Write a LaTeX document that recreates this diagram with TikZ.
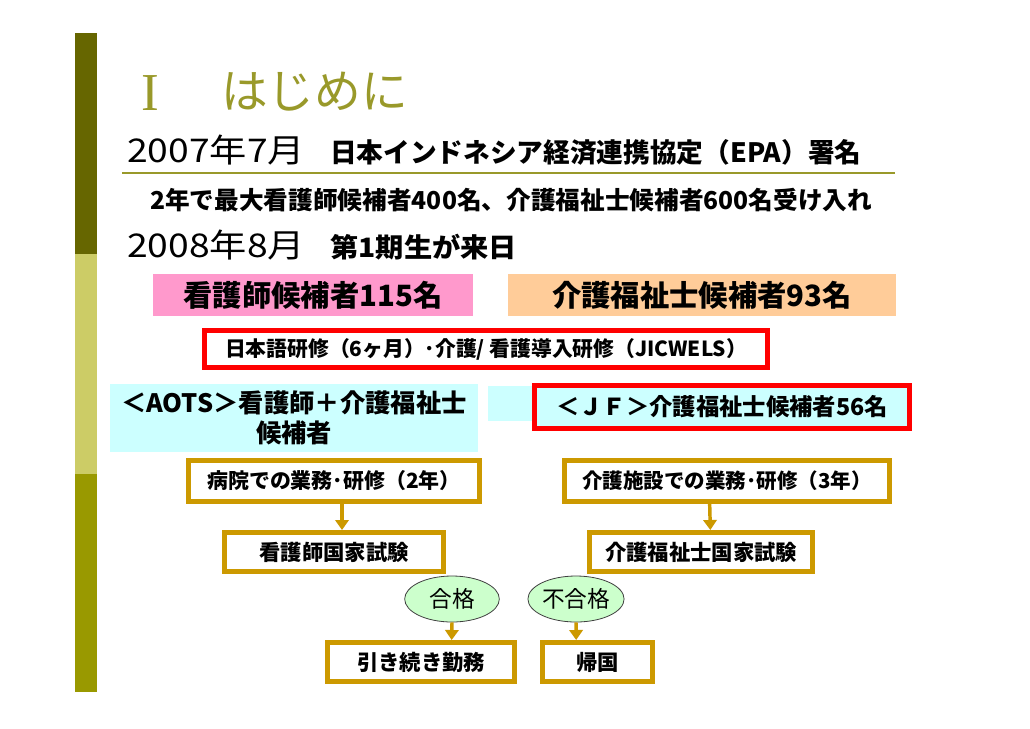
\documentclass[tikz,border=0pt]{standalone}
\usepackage{fontspec}
\setmainfont{Noto Sans CJK JP}
\newfontfamily\romanI{Liberation Serif}
\usetikzlibrary{shapes.geometric,arrows.meta}
\definecolor{bardark}{HTML}{666600}
\definecolor{barlight}{HTML}{CCCC66}
\definecolor{barolive}{HTML}{999900}
\definecolor{titleol}{HTML}{99992A}
\definecolor{pinkf}{HTML}{FF99CC}
\definecolor{peachf}{HTML}{FFCC99}
\definecolor{cyanf}{HTML}{CCFFFF}
\definecolor{goldl}{HTML}{CC9900}
\definecolor{greenf}{HTML}{CCFFCC}
\definecolor{redl}{HTML}{FF0000}
\begin{document}
\begin{tikzpicture}[x=0.75pt,y=-0.75pt,
  fs/.style={font=\fontsize{#1}{#1}\selectfont},
  bfs/.style={font=\fontsize{#1}{#1}\selectfont\bfseries},
  plain/.style={inner sep=0pt, anchor=west},
  fillbox/.style={inner sep=0pt, minimum height=31.5pt},
  redbox/.style={draw=redl, line width=3.75pt, fill=white, inner sep=0pt},
  goldbox/.style={draw=goldl, line width=3.75pt, fill=white, inner sep=0pt, minimum height=29.25pt, bfs=16},
  passoval/.style={ellipse, draw=black!75, line width=0.6pt, fill=greenf, inner sep=0pt, minimum width=71pt, minimum height=34.5pt, fs=17},
  arr/.style={draw=goldl, line width=2.6pt, -{Triangle[width=10pt,length=7.5pt]}}
]
\useasboundingbox (0,0) rectangle (1030,728);
\fill[white] (0,0) rectangle (1030,728);
% left bar
\fill[bardark] (75,33) rectangle (97,254);
\fill[barlight] (75,254) rectangle (97,474);
\fill[barolive] (75,474) rectangle (97,692);

% header texts
\node[plain, text=titleol, font=\romanI\fontsize{40}{40}\selectfont] (titleI) at (141,93) {I};
\node[plain, fs=35, text=titleol] (title) at (221,92) {はじめに};
\node[plain, fs=24.5] (t2007) at (127,150) {\scalebox{1.14}[1]{2007年7月}};
\node[plain, bfs=20] (epa) at (330,152) {日本インドネシア経済連携協定（EPA）署名};
\coordinate (ruleL) at (122,173);
\coordinate (ruleR) at (895,173);
\draw[titleol, line width=1.6pt] (ruleL) -- (ruleR);
\node[plain, bfs=18.5] (quota) at (150,200) {2年で最大看護師候補者400名、介護福祉士候補者600名受け入れ};
\node[plain, fs=24.5] (t2008) at (127,245) {\scalebox{1.14}[1]{2008年8月}};
\node[plain, bfs=20] (first) at (330,247) {\scalebox{1.06}[1]{第1期生が来日}};

% candidate boxes
\node[fillbox, fill=pinkf, minimum width=240pt, bfs=22] (nurse) at (313,295) {看護師候補者115名};
\node[fillbox, fill=peachf, minimum width=291pt, bfs=22] (care) at (702,295) {介護福祉士候補者93名};

% training
\node[redbox, minimum width=422pt, minimum height=27.75pt, bfs=15.6] (jic) at (486,349) {日本語研修（6ヶ月）･介護/ 看護導入研修（JICWELS）};

% AOTS / JF
\node[inner sep=0pt, fill=cyanf, minimum width=276pt, minimum height=51pt, align=center, font=\fontsize{19}{22}\selectfont\bfseries] (aots) at (294,418) {＜AOTS＞看護師＋介護福祉士\\候補者};
\node[inner sep=0pt, fill=cyanf, minimum width=318pt, minimum height=26.25pt] (jfback) at (700,403.5) {};
\node[redbox, fill=cyanf, minimum width=281.25pt, minimum height=32.25pt, bfs=17.5] (jf) at (722,407) {＜ＪＦ＞介護福祉士候補者56名};

% work / exams
\node[goldbox, minimum width=218.25pt, minimum height=30.75pt, bfs=15.7] (hosp) at (334,481) {病院での業務･研修（2年）};
\node[goldbox, minimum width=243.75pt, minimum height=30.75pt, bfs=15.4] (fac) at (727,481) {介護施設での業務･研修（3年）};
\node[goldbox, minimum width=164.25pt] (nexam) at (334,552) {看護師国家試験};
\node[goldbox, minimum width=167.25pt] (cexam) at (701,552) {介護福祉士国家試験};

\node[passoval] (pass) at (452,599) {合格};
\node[passoval, minimum width=69pt] (fail) at (576,599) {不合格};

\node[goldbox, minimum width=140.25pt] (stay) at (421,662) {引き続き勤務};
\node[goldbox, minimum width=82.5pt] (home) at (597.5,662) {帰国};

% arrows
\draw[arr] ([xshift=6pt]hosp.south) -- ([xshift=6pt]nexam.north);
\draw[arr] ([xshift=-13pt]fac.south) -- ([xshift=7pt]cexam.north);
\draw[arr] (pass.south) -- ([xshift=23pt]stay.north);
\draw[arr] (fail.south) -- ([xshift=-16pt]home.north);
\end{tikzpicture}
\end{document}
